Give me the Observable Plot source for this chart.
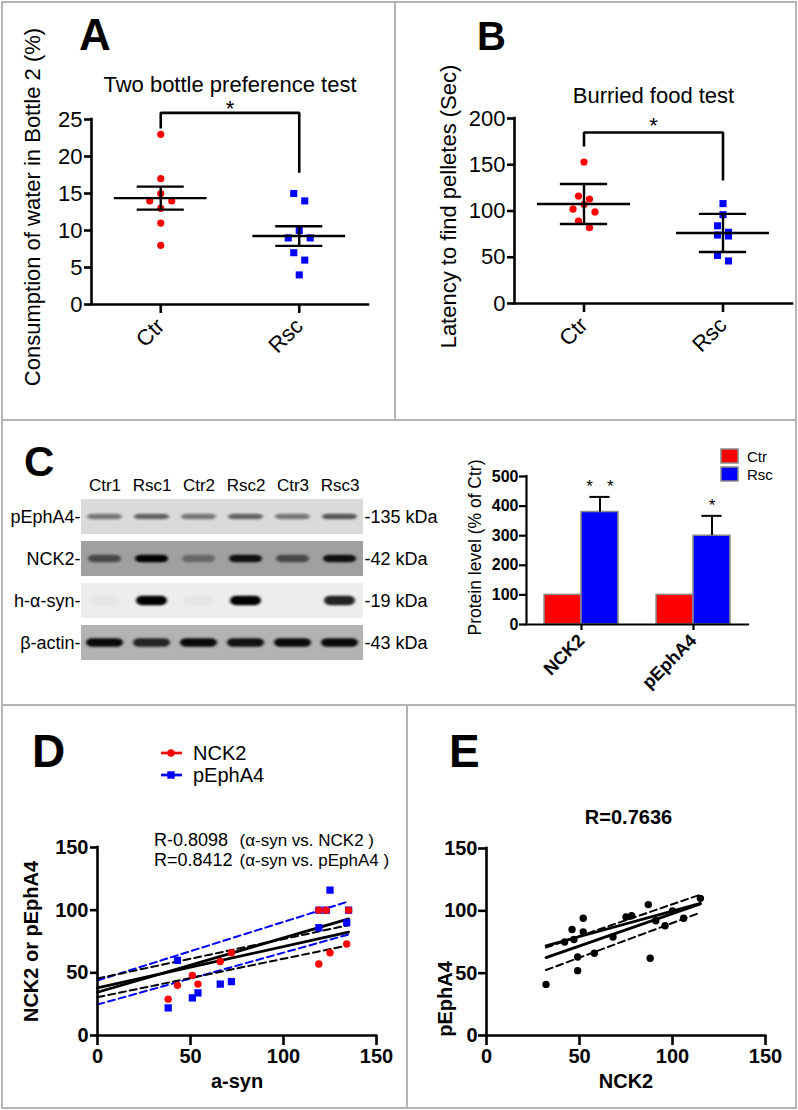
<!DOCTYPE html>
<html><head><meta charset="utf-8">
<script src="https://cdn.jsdelivr.net/npm/d3@7"></script>
<script src="https://cdn.jsdelivr.net/npm/@observablehq/plot@0.6"></script>
<style>
body{margin:0;background:#fff;}
#fig{position:relative;width:798px;height:1110px;overflow:hidden;background:#fff;font-family:Arial,"Liberation Sans",sans-serif;}
</style></head><body><div id="fig"></div>
<script>
// ---------- Panel A: two bottle preference test ----------
const groupsAB = ["Ctr", "Rsc"];
const waterCtr = [23, 17, 15, 14, 14, 13, 11, 8];
const waterRsc = [15, 14, 10, 9, 9, 7, 6, 4];
const waterTicks = [0, 5, 10, 15, 20, 25];
// ---------- Panel B: buried food test ----------
const latencyCtr = [153, 116, 113, 107, 102, 99, 89, 82];
const latencyRsc = [108, 96, 84, 77, 74, 73, 52, 46];
const latencyTicks = [0, 50, 100, 150, 200];
// ---------- Panel C: western blot ----------
const lanes = ["Ctr1", "Rsc1", "Ctr2", "Rsc2", "Ctr3", "Rsc3"];
const blotRows = ["pEphA4", "NCK2", "h-α-syn", "β-actin"];
const blotKDa = ["-135 kDa", "-42 kDa", "-19 kDa", "-43 kDa"];
const bandPEphA4 = [0.45, 0.55, 0.45, 0.55, 0.45, 0.6];
const bandNCK2 = [0.55, 1.0, 0.35, 0.9, 0.55, 0.9];
const bandSyn = [0.03, 1.0, 0.03, 1.0, 0.0, 0.85];
const bandActin = [0.95, 0.8, 0.95, 0.9, 0.95, 0.95];
// ---------- Panel C: protein level bars ----------
const proteins = ["NCK2", "pEphA4"];
const conditions = ["Ctr", "Rsc"];
const levelCtr = [100, 100];
const levelRsc = [380, 300];
const levelRscErr = [51, 67];
const levelStars = ["*   *", "*"];
const levelTicks = [0, 100, 200, 300, 400, 500];
// ---------- Panel D: alpha-syn correlations ----------
const asyn = [38, 43, 51, 54, 66, 72, 119, 119, 123, 125, 134, 135];
const nck2 = [29, 40, 48, 41, 59, 66, 57, 100, 100, 66, 73, 100];
const pepha4 = [22, 60, 30, 34, 41, 43, 86, 100, 100, 116, 90, 100];
const dLineX = [0, 135];
const nck2Fit = [38, 82.5], nck2CiLo = [30.5, 72], nck2CiHi = [45.5, 88];
const pepFit = [34.5, 93], pepCiLo = [24.7, 80.6], pepCiHi = [43.9, 107];
const corrTicks = [0, 50, 100, 150];
// ---------- Panel E: NCK2 vs pEphA4 ----------
const eNck2 = [32, 42, 46, 47, 49, 49, 52, 52, 58, 68, 75, 78, 87, 88, 91, 96, 100, 106, 115];
const ePep  = [41, 75, 85, 77, 63, 52, 94, 83, 66, 79, 95, 96, 105, 62, 92, 88, 100, 94, 110];
const eLineX = [32, 115];
const eFitMain = [62.5, 105.6], eFitAlt = [72, 106], eCiLo = [52.5, 98.6], eCiHi = [70.5, 113];

// ================= rendering =================
const FONT = 'Arial, "Liberation Sans", sans-serif';
const RED = "#ff0000", BLUE = "#0000ff";
const fig = document.getElementById("fig");
const baseStyle = {fontFamily: FONT, background: "none", overflow: "visible", color: "#000"};
function mount(svg, left, top) {
  svg.style.position = "absolute"; svg.style.left = left + "px"; svg.style.top = top + "px";
  fig.appendChild(svg); return svg;
}
const seg = (xs, ys) => xs.map((x, i) => ({x, y: ys[i]}));
const sem = v => d3.deviation(v) / Math.sqrt(v.length);
const sd = v => d3.deviation(v);

// row-based scatter offsets: values closer than thr pixels share a row, spread around the centre
function jitter(values, pxY, pxX, step = 11, thr = 8) {
  const order = d3.range(values.length).sort((a, b) => values[b] - values[a]);
  const rows = [];
  for (const i of order) {
    const row = rows[rows.length - 1];
    if (row && (values[row[0]] - values[i]) * pxY < thr) row.push(i); else rows.push([i]);
  }
  const off = values.map(() => 0);
  for (const row of rows) {
    const k = row.length;
    let slots;
    if (k % 2) { slots = [0]; for (let j = 1; slots.length < k; j++) slots.push(-j * step, j * step); }
    else { slots = []; for (let j = 0; slots.length < k; j++) slots.push(-(j + 0.5) * step, (j + 0.5) * step); }
    row.forEach((i, j) => off[i] = slots[j]);
  }
  return off.map(o => o / pxX);
}

function yLabel(text, dx, dy, fontSize, fontWeight = "normal") {
  return Plot.text([text], {frameAnchor: "left", text: d => d, rotate: -90, textAnchor: "middle",
    lineAnchor: "middle", dx, dy, fontSize, fontWeight});
}

function groupPanel(cfg) {
  const h = cfg.height - cfg.mT - cfg.mB, w = cfg.width - cfg.mL - cfg.mR;
  const pxY = h / cfg.yMax, pxX = w / 2;
  const series = [cfg.ctr, cfg.rsc];
  const pts = series.flatMap((vals, g) => {
    const off = jitter(vals, pxY, pxX);
    return vals.map((v, i) => ({g, v, x: g + off[i]}));
  });
  const stats = series.map((vals, g) => {
    const m = d3.mean(vals), e = cfg.err(vals);
    return {g, m, lo: m - e, hi: m + e};
  });
  const br = cfg.bracket;
  const bracketPts = [{x: 0, y: br[0]}, {x: 0, y: br[1]}, {x: 1, y: br[1]}, {x: 1, y: br[2]}];
  const svg = Plot.plot({
    width: cfg.width, height: cfg.height,
    marginLeft: cfg.mL, marginRight: cfg.mR, marginTop: cfg.mT, marginBottom: cfg.mB,
    style: baseStyle,
    x: {domain: [-0.5, 1.5]}, y: {domain: [0, cfg.yMax]},
    marks: [
      Plot.ruleY([0], {x1: -0.5, x2: 1.5, strokeWidth: 2.6, strokeLinecap: "square"}),
      Plot.ruleX([-0.5], {y1: 0, y2: cfg.yMax, strokeWidth: 2.6, strokeLinecap: "square"}),
      Plot.axisY({ticks: cfg.yTicks, tickSize: 7, tickPadding: 2, fontSize: 22, strokeWidth: 2.6, label: null}),
      Plot.axisX({ticks: [0, 1], tickFormat: i => groupsAB[i], tickSize: 9, tickPadding: 9, tickRotate: -45, fontSize: 22, strokeWidth: 2.6, label: null}),
      Plot.dot(pts.filter(d => d.g === 0), {x: "x", y: "v", r: 3.6, fill: RED, symbol: "circle"}),
      Plot.dot(pts.filter(d => d.g === 1), {x: "x", y: "v", r: 4, fill: BLUE, symbol: "square"}),
      Plot.ruleY(stats, {y: "m", x1: d => d.g - 0.335, x2: d => d.g + 0.335, strokeWidth: 2.4}),
      Plot.ruleY(stats, {y: "hi", x1: d => d.g - 0.17, x2: d => d.g + 0.17, strokeWidth: 2.4}),
      Plot.ruleY(stats, {y: "lo", x1: d => d.g - 0.17, x2: d => d.g + 0.17, strokeWidth: 2.4}),
      Plot.ruleX(stats, {x: "g", y1: "lo", y2: "hi", strokeWidth: 2.4}),
      Plot.line(bracketPts, {x: "x", y: "y", strokeWidth: 2.6, strokeLinejoin: "miter", strokeLinecap: "butt"}),
      Plot.text(["*"], {x: 0.5, y: br[1], text: d => d, lineAnchor: "bottom", dy: cfg.starDy, fontSize: 22}),
      Plot.text([cfg.title], {frameAnchor: "top", text: d => d, dy: cfg.titleDy, lineAnchor: "bottom", fontSize: 22}),
      yLabel(cfg.yLabel, cfg.labelDx, cfg.labelDy, 22)
    ]
  });
  mount(svg, cfg.left, cfg.top);
}

// Panel A
groupPanel({left: 0, top: 0, width: 395, height: 420, mL: 91, mR: 27, mT: 119, mB: 116,
  ctr: waterCtr, rsc: waterRsc, yMax: 25, yTicks: waterTicks, err: sem,
  bracket: [23.8, 25.9, 17.8], starDy: 3.5,
  title: "Two bottle preference test", titleDy: -28,
  yLabel: "Consumption of water in Bottle 2 (%)", labelDx: -59, labelDy: -5});
// Panel B
groupPanel({left: 395, top: 0, width: 401, height: 420, mL: 119, mR: 4, mT: 118, mB: 117,
  ctr: latencyCtr, rsc: latencyRsc, yMax: 200, yTicks: latencyTicks, err: sd,
  bracket: [169.7, 184.9, 133], starDy: 1,
  title: "Burried food test", titleDy: -16,
  yLabel: "Latency to find pelletes (Sec)", labelDx: -66, labelDy: -4.5});

// Panel C: blot
{
  const bands = [bandPEphA4, bandNCK2, bandSyn, bandActin];
  const shade = ["#dadada", "#a0a0a0", "#ededed", "#b3b3b3"];
  const bandH = [6, 8, 10, 9], bandInset = [6, 7, 8, 5];
  const top = 497, bottom = 661, pad = 0.17;
  const rowH = (bottom - top) / (blotRows.length - pad) * (1 - pad);
  const cells = blotRows.flatMap((row, r) => lanes.map((lane, i) => ({row, lane, r, v: bands[r][i]})));
  const height = 285, width = 440;
  const svg = Plot.plot({
    width, height, marginLeft: 81, marginRight: width - 363, marginTop: top - 420, marginBottom: 420 + height - bottom,
    style: baseStyle,
    x: {domain: lanes, padding: 0}, y: {domain: blotRows, paddingInner: pad, paddingOuter: 0},
    opacity: {domain: [0, 1], range: [0, 1]},
    marks: [
      Plot.cell(cells, {x: "lane", y: "row", fill: d => shade[d.r]}),
      ...blotRows.map((row, r) => Plot.cell(cells.filter(d => d.r === r), {
        x: "lane", y: "row", fill: "#000", fillOpacity: "v", rx: 6,
        insetLeft: bandInset[r], insetRight: bandInset[r],
        insetTop: (rowH - bandH[r]) / 2, insetBottom: (rowH - bandH[r]) / 2})),
      Plot.axisX({anchor: "top", tickSize: 0, tickPadding: 7, fontSize: 17, label: null}),
      Plot.axisY({anchor: "left", tickSize: 0, tickPadding: 1, fontSize: 18, tickFormat: d => d + "-", label: null}),
      Plot.axisY({anchor: "right", tickSize: 0, tickPadding: 1, fontSize: 18, tickFormat: d => blotKDa[blotRows.indexOf(d)], label: null})
    ]
  });
  const s = d3.select(svg);
  s.append("defs").append("filter").attr("id", "bandblur")
    .attr("x", "-50%").attr("y", "-150%").attr("width", "200%").attr("height", "400%")
    .append("feGaussianBlur").attr("stdDeviation", "1.6 1.0");
  // band groups: every cell group after the membrane background
  const cellGroups = s.selectAll('g[aria-label="cell"]').nodes();
  cellGroups.slice(1).forEach(g => d3.select(g).selectAll("rect").attr("filter", "url(#bandblur)"));
  mount(svg, 0, 420);
}

// Panel C: bars
{
  const halfW = 0.33;
  const barRows = proteins.flatMap((p, g) => [
    {g, cond: "Ctr", v: levelCtr[g]},
    {g, cond: "Rsc", v: levelRsc[g], err: levelRscErr[g], star: levelStars[g]}
  ]);
  const errRows = barRows.filter(d => d.cond === "Rsc");
  const cx = d => d.g + halfW / 2;
  const svg = Plot.plot({
    width: 366, height: 285, marginLeft: 96, marginRight: 48, marginTop: 56, marginBottom: 81,
    style: baseStyle,
    x: {domain: [-55 / 112, 167 / 112]}, y: {domain: [0, 500]},
    color: {domain: conditions, range: [RED, BLUE]},
    marks: [
      Plot.rectY(barRows, {x1: d => d.cond === "Ctr" ? d.g - halfW : d.g, x2: d => d.cond === "Ctr" ? d.g : d.g + halfW,
        y1: 0, y2: "v", fill: "cond", stroke: "#8a8a8a", strokeWidth: 1.5}),
      Plot.ruleX(errRows, {x: cx, y1: "v", y2: d => d.v + d.err, strokeWidth: 2}),
      Plot.ruleY(errRows, {y: d => d.v + d.err, x1: d => cx(d) - 0.09, x2: d => cx(d) + 0.09, strokeWidth: 2}),
      Plot.text(errRows, {x: cx, y: d => d.v + d.err, text: "star", dy: -5, lineAnchor: "bottom", fontSize: 17}),
      Plot.ruleY([0], {x1: -55 / 112, x2: 167 / 112, strokeWidth: 2.2, strokeLinecap: "square"}),
      Plot.ruleX([-55 / 112], {y1: 0, y2: 500, strokeWidth: 2.2, strokeLinecap: "square"}),
      Plot.axisY({ticks: levelTicks, tickSize: 7, tickPadding: 1, fontSize: 16, fontWeight: "bold", strokeWidth: 2.2, label: null}),
      Plot.axisX({ticks: [0, 1], tickFormat: i => proteins[i], tickSize: 6, tickPadding: 7, tickRotate: -45, fontSize: 18, fontWeight: "bold", strokeWidth: 2.2, label: null}),
      yLabel("Protein level (% of Ctr)", -51, -3, 17.5)
    ]
  });
  mount(svg, 430, 420);
}

// Panel D
{
  const redPts = asyn.map((x, i) => ({x, y: nck2[i]}));
  const bluePts = asyn.map((x, i) => ({x, y: pepha4[i]}));
  const svg = Plot.plot({
    width: 407, height: 403, marginLeft: 97, marginRight: 31, marginTop: 142, marginBottom: 73,
    style: baseStyle,
    x: {domain: [0, 150]}, y: {domain: [0, 150]},
    marks: [
      Plot.line(seg(dLineX, pepCiHi), {x: "x", y: "y", stroke: BLUE, strokeWidth: 2, strokeDasharray: "7,4"}),
      Plot.line(seg(dLineX, pepCiLo), {x: "x", y: "y", stroke: BLUE, strokeWidth: 2, strokeDasharray: "7,4"}),
      Plot.line(seg(dLineX, nck2CiHi), {x: "x", y: "y", stroke: "#000", strokeWidth: 2, strokeDasharray: "7,4"}),
      Plot.line(seg(dLineX, nck2CiLo), {x: "x", y: "y", stroke: "#000", strokeWidth: 2, strokeDasharray: "7,4"}),
      Plot.line(seg(dLineX, pepFit), {x: "x", y: "y", stroke: "#000", strokeWidth: 2.8}),
      Plot.line(seg(dLineX, nck2Fit), {x: "x", y: "y", stroke: "#000", strokeWidth: 2.8}),
      Plot.dot(bluePts, {x: "x", y: "y", r: 4.1, symbol: "square", fill: BLUE}),
      Plot.dot(redPts, {x: "x", y: "y", r: 3.7, fill: RED}),
      Plot.ruleY([0], {x1: 0, x2: 150, strokeWidth: 2.6, strokeLinecap: "square"}),
      Plot.ruleX([0], {y1: 0, y2: 150, strokeWidth: 2.6, strokeLinecap: "square"}),
      Plot.axisY({ticks: corrTicks, tickSize: 7, tickPadding: 2, fontSize: 20, fontWeight: "bold", strokeWidth: 2.6, label: null}),
      Plot.axisX({ticks: corrTicks, tickSize: 10, tickPadding: 3, fontSize: 20, fontWeight: "bold", strokeWidth: 2.6, label: null}),
      Plot.text(["a-syn"], {frameAnchor: "bottom", text: d => d, dy: 52, lineAnchor: "bottom", fontSize: 20, fontWeight: "bold"}),
      yLabel("NCK2 or pEphA4", -66, 0, 20, "bold"),
      Plot.text(["R-0.8098"], {frameAnchor: "top-left", text: d => d, dx: 56.5, dy: -2, lineAnchor: "bottom", textAnchor: "start", fontSize: 18}),
      Plot.text(["(α-syn vs. NCK2 )"], {frameAnchor: "top-left", text: d => d, dx: 142, dy: -2, lineAnchor: "bottom", textAnchor: "start", fontSize: 17}),
      Plot.text(["R=0.8412"], {frameAnchor: "top-left", text: d => d, dx: 56.5, dy: 18, lineAnchor: "bottom", textAnchor: "start", fontSize: 18}),
      Plot.text(["(α-syn vs. pEphA4 )"], {frameAnchor: "top-left", text: d => d, dx: 142, dy: 18, lineAnchor: "bottom", textAnchor: "start", fontSize: 17})
    ]
  });
  mount(svg, 0, 705);
}

// Panel E
{
  const pts = eNck2.map((x, i) => ({x, y: ePep[i]}));
  const svg = Plot.plot({
    width: 389, height: 403, marginLeft: 79, marginRight: 31, marginTop: 143, marginBottom: 73,
    style: baseStyle,
    x: {domain: [0, 150]}, y: {domain: [0, 150]},
    marks: [
      Plot.line(seg(eLineX, eCiHi), {x: "x", y: "y", strokeWidth: 2, strokeDasharray: "7,4"}),
      Plot.line(seg(eLineX, eCiLo), {x: "x", y: "y", strokeWidth: 2, strokeDasharray: "7,4"}),
      Plot.line(seg(eLineX, eFitAlt), {x: "x", y: "y", strokeWidth: 2.8}),
      Plot.line(seg(eLineX, eFitMain), {x: "x", y: "y", strokeWidth: 2.8}),
      Plot.dot(pts, {x: "x", y: "y", r: 3.7, fill: "#000"}),
      Plot.ruleY([0], {x1: 0, x2: 150, strokeWidth: 2.6, strokeLinecap: "square"}),
      Plot.ruleX([0], {y1: 0, y2: 150, strokeWidth: 2.6, strokeLinecap: "square"}),
      Plot.axisY({ticks: corrTicks, tickSize: 8, tickPadding: 1, fontSize: 20, fontWeight: "bold", strokeWidth: 2.6, label: null}),
      Plot.axisX({ticks: corrTicks, tickSize: 10, tickPadding: 3, fontSize: 20, fontWeight: "bold", strokeWidth: 2.6, label: null}),
      Plot.text(["R=0.7636"], {frameAnchor: "top", text: d => d, dx: 2.5, dy: -25, lineAnchor: "bottom", fontSize: 20, fontWeight: "bold"}),
      Plot.text(["NCK2"], {frameAnchor: "bottom", text: d => d, dy: 52, lineAnchor: "bottom", fontSize: 20, fontWeight: "bold"}),
      yLabel("pEphA4", -41, 57, 20, "bold")
    ]
  });
  mount(svg, 407, 705);
}

// Overlay: panel borders, letters, legends
{
  const o = d3.create("svg").attr("width", 798).attr("height", 1110)
    .style("position", "absolute").style("left", "0px").style("top", "0px")
    .style("font-family", FONT);
  const B = "#b4b4b4";
  o.append("rect").attr("x", 2).attr("y", 2).attr("width", 794).attr("height", 1106)
    .attr("fill", "none").attr("stroke", B).attr("stroke-width", 2);
  [[2, 420, 796, 420], [2, 705, 796, 705], [395, 2, 395, 420], [407, 705, 407, 1108]].forEach(([x1, y1, x2, y2]) =>
    o.append("line").attr("x1", x1).attr("y1", y1).attr("x2", x2).attr("y2", y2).attr("stroke", B).attr("stroke-width", 2));
  [["A", 79, 50, 44], ["B", 477, 50, 40], ["C", 24, 476, 42], ["D", 32, 767, 46], ["E", 449, 767, 46]].forEach(([t, x, y, s]) =>
    o.append("text").attr("x", x).attr("y", y).attr("font-size", s).attr("font-weight", "bold").text(t));
  // legend C
  conditions.forEach((c, i) => {
    o.append("rect").attr("x", 721).attr("y", 449 + i * 18).attr("width", 17).attr("height", 14)
      .attr("fill", i ? BLUE : RED).attr("stroke", "#8a8a8a").attr("stroke-width", 1.5);
    o.append("text").attr("x", 747).attr("y", 461.5 + i * 18).attr("font-size", 15).text(c);
  });
  // legend D
  ["NCK2", "pEphA4"].forEach((s, i) => {
    const y = 753 + i * 22, col = i ? BLUE : RED;
    o.append("line").attr("x1", 161).attr("x2", 182).attr("y1", y).attr("y2", y).attr("stroke", col).attr("stroke-width", 2.7);
    if (i) o.append("rect").attr("x", 167.3).attr("y", y - 3.7).attr("width", 7.4).attr("height", 7.4).attr("fill", col);
    else o.append("circle").attr("cx", 171).attr("cy", y).attr("r", 3.7).attr("fill", col);
    o.append("text").attr("x", 193).attr("y", y + 7).attr("font-size", 20).text(s);
  });
  fig.appendChild(o.node());
}
</script>
</body></html>
